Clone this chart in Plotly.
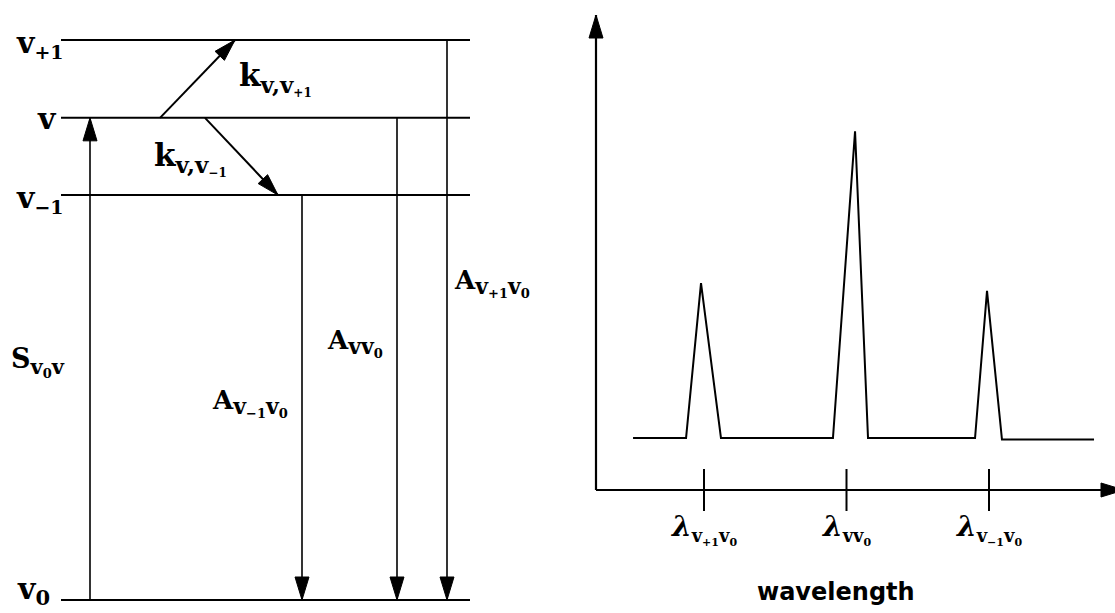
import math
import plotly.graph_objects as go

W, H = 1115, 613

# ---------------- energy-level diagram data ----------------
level_names = ["v+1", "v", "v-1", "v0"]
level_energy = [1.0, 0.861, 0.723, 0.0]          # relative energy, v0 = 0, v+1 = 1

excitation = ("v0", "v")                          # S_{v0 v}
collisional = [("v", "v+1"), ("v", "v-1")]       # k_{v,v+1}, k_{v,v-1}
emission = [("v-1", "v0"), ("v", "v0"), ("v+1", "v0")]

# ---------------- emission spectrum data ----------------
spec_wl = [0.502, 0.874, 0.979, 1.119, 1.905, 2.060, 2.151, 2.902, 2.986, 3.091, 3.737]
spec_int = [1.00, 1.00, 3.98, 1.00, 1.00, 6.90, 1.00, 1.00, 3.83, 0.97, 0.97]
line_wl = [1, 2, 3]
line_names = ["v+1", "v", "v-1"]                  # upper level of each band

# ---------------- layout constants ----------------
LEFT_FRAC = 560 / W
L_XR = [0, 560]                                   # left panel horizontal units
L_PX_PER_E = 560.0
L_YR = [-13 / L_PX_PER_E, 600 / L_PX_PER_E]

R_PX_PER_WL = 142.5
R_PX_PER_I = 52.0
R_XR = [1 + (560 - 704) / R_PX_PER_WL, 1 + (1115 - 704) / R_PX_PER_WL]
R_YR = [-(613 - 490) / R_PX_PER_I, 490 / R_PX_PER_I]

LEVEL_X = (61, 470)
EXC_X = 90
COLL_X = [(160, 235), (205, 278)]
EMIS_X = [302, 397, 447]
AXIS_X0 = 1 + (596 - 704) / R_PX_PER_WL
AXIS_X1 = 1 + (1124 - 704) / R_PX_PER_WL
AXIS_Y1 = (490 - 15) / R_PX_PER_I

SERIF = "DejaVu Serif"
SANS = "DejaVu Sans"
INK = "#000000"

E = dict(zip(level_names, level_energy))


def sz(t, px):
    return f'<span style="font-size:{px}px">{t}</span>'


def sub(t):
    return f"<sub>{t}</sub>"


def px_to_paper(x, y):
    return x / W, 1 - y / H


fig = go.Figure()
shapes = []


def head(x, y, dx, dy, sx, sy, xr, yr, length=23, half=7):
    """Filled arrowhead with its tip at (x, y), pointing along (dx, dy)."""
    ux, uy = dx * sx, dy * sy
    n = math.hypot(ux, uy)
    ux, uy = ux / n, uy / n
    nx, ny = -uy, ux
    bx, by = -length * ux, -length * uy
    p1 = (bx + half * nx, by + half * ny)
    p2 = (bx - half * nx, by - half * ny)
    path = f"M0,0 L{p1[0]:.2f},{p1[1]:.2f} L{p2[0]:.2f},{p2[1]:.2f} Z"
    shapes.append(dict(type="path", xref=xr, yref=yr, xsizemode="pixel", ysizemode="pixel",
                       xanchor=x, yanchor=y, path=path, fillcolor=INK,
                       line=dict(color=INK, width=1)))


def seg(x0, y0, x1, y1, xa, ya, width=1.6):
    fig.add_trace(go.Scatter(x=[x0, x1], y=[y0, y1], mode="lines", xaxis=xa, yaxis=ya,
                             line=dict(color=INK, width=width), hoverinfo="skip",
                             showlegend=False))


# energy levels
for name in level_names:
    seg(LEVEL_X[0], E[name], LEVEL_X[1], E[name], "x", "y", width=2)

# excitation arrow (upward)
lo, hi = excitation
seg(EXC_X, E[lo], EXC_X, E[hi], "x", "y")
head(EXC_X, E[hi], 0, 1, 1, L_PX_PER_E, "x", "y")

# collisional transfer arrows
for (a, b), (xa0, xa1) in zip(collisional, COLL_X):
    seg(xa0, E[a], xa1, E[b], "x", "y", width=2)
    head(xa1, E[b], xa1 - xa0, E[b] - E[a], 1, L_PX_PER_E, "x", "y", length=22, half=6.5)

# radiative decay arrows
for (a, b), xe in zip(emission, EMIS_X):
    seg(xe, E[a], xe, E[b], "x", "y")
    head(xe, E[b], 0, -1, 1, L_PX_PER_E, "x", "y")

# spectrum
fig.add_trace(go.Scatter(x=spec_wl, y=spec_int, mode="lines", xaxis="x2", yaxis="y2",
                         line=dict(color=INK, width=2), hoverinfo="skip", showlegend=False))

# spectrum axes with arrows
seg(AXIS_X0, 0, AXIS_X0, AXIS_Y1, "x2", "y2", width=2.2)
head(AXIS_X0, AXIS_Y1, 0, 1, R_PX_PER_WL, R_PX_PER_I, "x2", "y2")
seg(AXIS_X0, 0, AXIS_X1, 0, "x2", "y2", width=2.2)
head(AXIS_X1, 0, 1, 0, R_PX_PER_WL, R_PX_PER_I, "x2", "y2")

# band position ticks
fig.add_trace(go.Scatter(x=line_wl, y=[0] * len(line_wl), mode="markers", xaxis="x2", yaxis="y2",
                         marker=dict(symbol="line-ns", size=30, line=dict(color=INK, width=2)),
                         hoverinfo="skip", showlegend=False))

# ---------------- text ----------------
annotations = []


def label(text, x, y, size, family=SERIF, anchor="left", yanchor="middle"):
    px, py = px_to_paper(x, y)
    annotations.append(dict(text=text, x=px, y=py, xref="paper", yref="paper",
                            xanchor=anchor, yanchor=yanchor, showarrow=False,
                            font=dict(family=family, size=size, color=INK, weight="bold")))


level_text = {
    "v+1": "v" + sub(sz("+1", 19)),
    "v": "v",
    "v-1": "v" + sub(sz("\u22121", 19)),
    "v0": "v" + sub(sz("0", 21)),
}
level_pos = {"v+1": (14, 44), "v": (35, 119), "v-1": (14, 199), "v0": (15, 590)}
for name in level_names:
    x, y = level_pos[name]
    label(level_text[name], x, y, 30)

label("k" + sub(sz("v,v", 23) + sub(sz("+1", 12))), 237, 78, 31)
label("k" + sub(sz("v,v", 23) + sub(sz("\u22121", 12))), 152, 158, 31)
label("S" + sub(sz("v", 21) + sub(sz("0", 13)) + sz("v", 21)), 9, 362, 27)
label("A" + sub(sz("v", 22) + sub(sz("\u22121", 13)) + sz("v", 22) + sub(sz("0", 13))), 210, 403, 26)
label("A" + sub(sz("vv", 22) + sub(sz("0", 13))), 325, 343, 26)
label("A" + sub(sz("v", 22) + sub(sz("+1", 13)) + sz("v", 22) + sub(sz("0", 13))), 452, 283, 26)


def lam_text(upper):
    if upper == "v":
        s = sz("vv", 18)
    else:
        s = sz("v", 18) + sub(sz(upper[1:].replace("-", "\u2212"), 11)) + sz("v", 18)
    return "<i>\u03bb</i>" + sub(s + sub(sz("0", 11)))


for wl, upper in zip(line_wl, line_names):
    annotations.append(dict(text=lam_text(upper), x=wl, y=0, xref="x2", yref="y2",
                            xanchor="center", yanchor="middle", yshift=-39, showarrow=False,
                            font=dict(family=SERIF, size=28, color=INK, weight="bold")))

label("wavelength", 836, 592, 24, family=SANS, anchor="center")

hidden = dict(visible=False, showgrid=False, zeroline=False, fixedrange=True)
fig.update_layout(
    width=W, height=H, autosize=False,
    margin=dict(l=0, r=0, t=0, b=0, pad=0),
    paper_bgcolor="white", plot_bgcolor="white",
    showlegend=False,
    xaxis=dict(domain=[0, LEFT_FRAC], range=L_XR, **hidden),
    yaxis=dict(domain=[0, 1], range=L_YR, anchor="x", **hidden),
    xaxis2=dict(domain=[LEFT_FRAC, 1], range=R_XR, anchor="y2", **hidden),
    yaxis2=dict(domain=[0, 1], range=R_YR, anchor="x2", **hidden),
    shapes=shapes,
    annotations=annotations,
)

fig.write_html("out.html")
